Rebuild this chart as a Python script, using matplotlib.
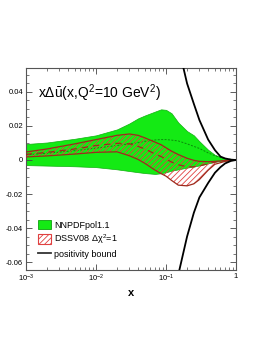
import matplotlib
matplotlib.use('Agg')
import matplotlib.pyplot as plt
import matplotlib.patches as mpatches
import matplotlib.lines as mlines
import numpy as np

plt.rcParams['font.family'] = ['Liberation Sans', 'DejaVu Sans']
plt.rcParams['mathtext.fontset'] = 'custom'
plt.rcParams['mathtext.rm'] = 'Liberation Sans'
plt.rcParams['mathtext.it'] = 'Liberation Sans'
plt.rcParams['hatch.linewidth'] = 0.6

# x grid shared by the bands
x = [0.001, 0.002, 0.005, 0.01, 0.02, 0.03, 0.04, 0.05, 0.07, 0.085,
     0.1, 0.12, 0.15, 0.2, 0.25, 0.3, 0.4, 0.5, 0.7, 1.0]

# NNPDFpol1.1 band and central value
nnpdf_up = [0.0094, 0.0103, 0.0125, 0.0145, 0.018, 0.0215, 0.0245, 0.0262, 0.0285, 0.0298,
            0.0295, 0.0275, 0.022, 0.017, 0.0145, 0.011, 0.006, 0.003, 0.0008, 0.0]
nnpdf_lo = [-0.003, -0.0033, -0.0037, -0.0042, -0.0055, -0.0065, -0.0072, -0.0077, -0.0082, -0.0078,
            -0.0072, -0.0063, -0.0055, -0.0045, -0.0038, -0.0032, -0.002, -0.001, -0.0003, 0.0]
nnpdf_cv = [0.003, 0.004, 0.0055, 0.007, 0.0085, 0.0095, 0.0103, 0.011, 0.0118, 0.012,
            0.012, 0.0117, 0.0112, 0.0095, 0.008, 0.0068, 0.0042, 0.0025, 0.0008, 0.0]

# DSSV08 band and central value
dssv_up = [0.0047, 0.0065, 0.0095, 0.012, 0.0145, 0.0153, 0.0145, 0.013, 0.0105, 0.009,
           0.0072, 0.0052, 0.0032, 0.001, -0.0002, -0.0008, -0.001, -0.0008, -0.0003, 0.0]
dssv_lo = [0.0018, 0.0024, 0.0035, 0.0045, 0.0048, 0.0025, 0.0003, -0.002, -0.006, -0.008,
           -0.0095, -0.012, -0.0148, -0.0152, -0.014, -0.0115, -0.006, -0.0025, -0.0008, 0.0]
dssv_cv = [0.0033, 0.0045, 0.0065, 0.0085, 0.0098, 0.0095, 0.008, 0.0065, 0.0035, 0.002,
           0.0005, -0.0012, -0.0028, -0.004, -0.004, -0.0035, -0.0022, -0.0012, -0.0003, 0.0]

# positivity bound
pos_x_up = [0.16, 0.2, 0.25, 0.3, 0.4, 0.5, 0.6, 0.7, 0.85, 1.0]
pos_up = [0.062, 0.045, 0.033, 0.0235, 0.012, 0.0058, 0.002, 0.0009, 0.0002, 0.0]
pos_x_lo = [0.145, 0.2, 0.25, 0.3, 0.4, 0.5, 0.6, 0.7, 0.85, 1.0]
pos_lo = [-0.07, -0.045, -0.031, -0.022, -0.0135, -0.0075, -0.0042, -0.002, -0.0005, 0.0]

yticks = [-0.06, -0.04, -0.02, 0, 0.02, 0.04]
ytick_labels = ['-0.06', '-0.04', '-0.02', '0', '0.02', '0.04']

green = '#14ea14'
dkred = '#9e2a1c'
hatchred = '#e04040'

fig = plt.figure(figsize=(2.62, 3.39), dpi=100)
ax = fig.add_axes([0.0992, 0.2035, 0.8016, 0.5959])

ax.fill_between(x, nnpdf_lo, nnpdf_up, facecolor=green, edgecolor='#10b010', linewidth=0.5, zorder=1)
ax.plot(x, nnpdf_cv, color='#0a8a0a', linestyle=(0, (2, 1.5)), linewidth=0.7, zorder=2)

ax.fill_between(x, dssv_lo, dssv_up, facecolor='none', edgecolor=hatchred, hatch='//////', linewidth=0, zorder=3)
ax.plot(x, dssv_up, color=dkred, linewidth=0.9, zorder=4)
ax.plot(x, dssv_lo, color=dkred, linewidth=0.9, zorder=4)
ax.plot(x, dssv_cv, color=dkred, linestyle=(0, (5, 4)), linewidth=0.9, zorder=4)

ax.plot(pos_x_up, pos_up, color='black', linewidth=1.3, zorder=5)
ax.plot(pos_x_lo, pos_lo, color='black', linewidth=1.3, zorder=5)

ax.set_xscale('log')
ax.set_xlim(1e-3, 1)
ax.set_ylim(-0.0647, 0.0541)
ax.set_yticks(yticks)
ax.set_yticklabels(ytick_labels)
ax.set_xticks([1e-3, 1e-2, 1e-1, 1])
ax.set_xticklabels(['$10^{-3}$', '$10^{-2}$', '$10^{-1}$', '1'])
ax.yaxis.set_minor_locator(matplotlib.ticker.MultipleLocator(0.005))

ax.tick_params(which='both', direction='in', top=True, right=True, labelsize=5.5, colors='#444444', pad=2)
ax.tick_params(which='major', length=4, width=0.6)
ax.tick_params(which='minor', length=2, width=0.5)
for lab in ax.get_xticklabels() + ax.get_yticklabels():
    lab.set_color('black')
for s in ax.spines.values():
    s.set_color('#555555')
    s.set_linewidth(0.8)

ax.set_xlabel('x', fontsize=8, fontweight='bold', labelpad=3)

ax.text(0.055, 0.875, r'x$\Delta\bar{\mathrm{u}}$(x,Q$^2$=10 GeV$^2$)', transform=ax.transAxes,
        fontsize=10, va='center', ha='left')

handles = [
    mpatches.Patch(facecolor=green, edgecolor='#10a010', linewidth=0.6, label='NNPDFpol1.1'),
    mpatches.Patch(facecolor='white', edgecolor=hatchred, hatch='//////', linewidth=0.8, label=r'DSSV08 $\Delta\chi^2$=1'),
    mlines.Line2D([], [], color='#333333', linewidth=1.3, label='positivity bound'),
]
leg = ax.legend(handles=handles, loc='lower left', bbox_to_anchor=(0.03, 0.03), frameon=False,
                fontsize=6.5, handlelength=1.5, handleheight=1.2, handletextpad=0.3, labelspacing=0.3,
                borderaxespad=0.2)

fig.savefig('out.png', dpi=100)
